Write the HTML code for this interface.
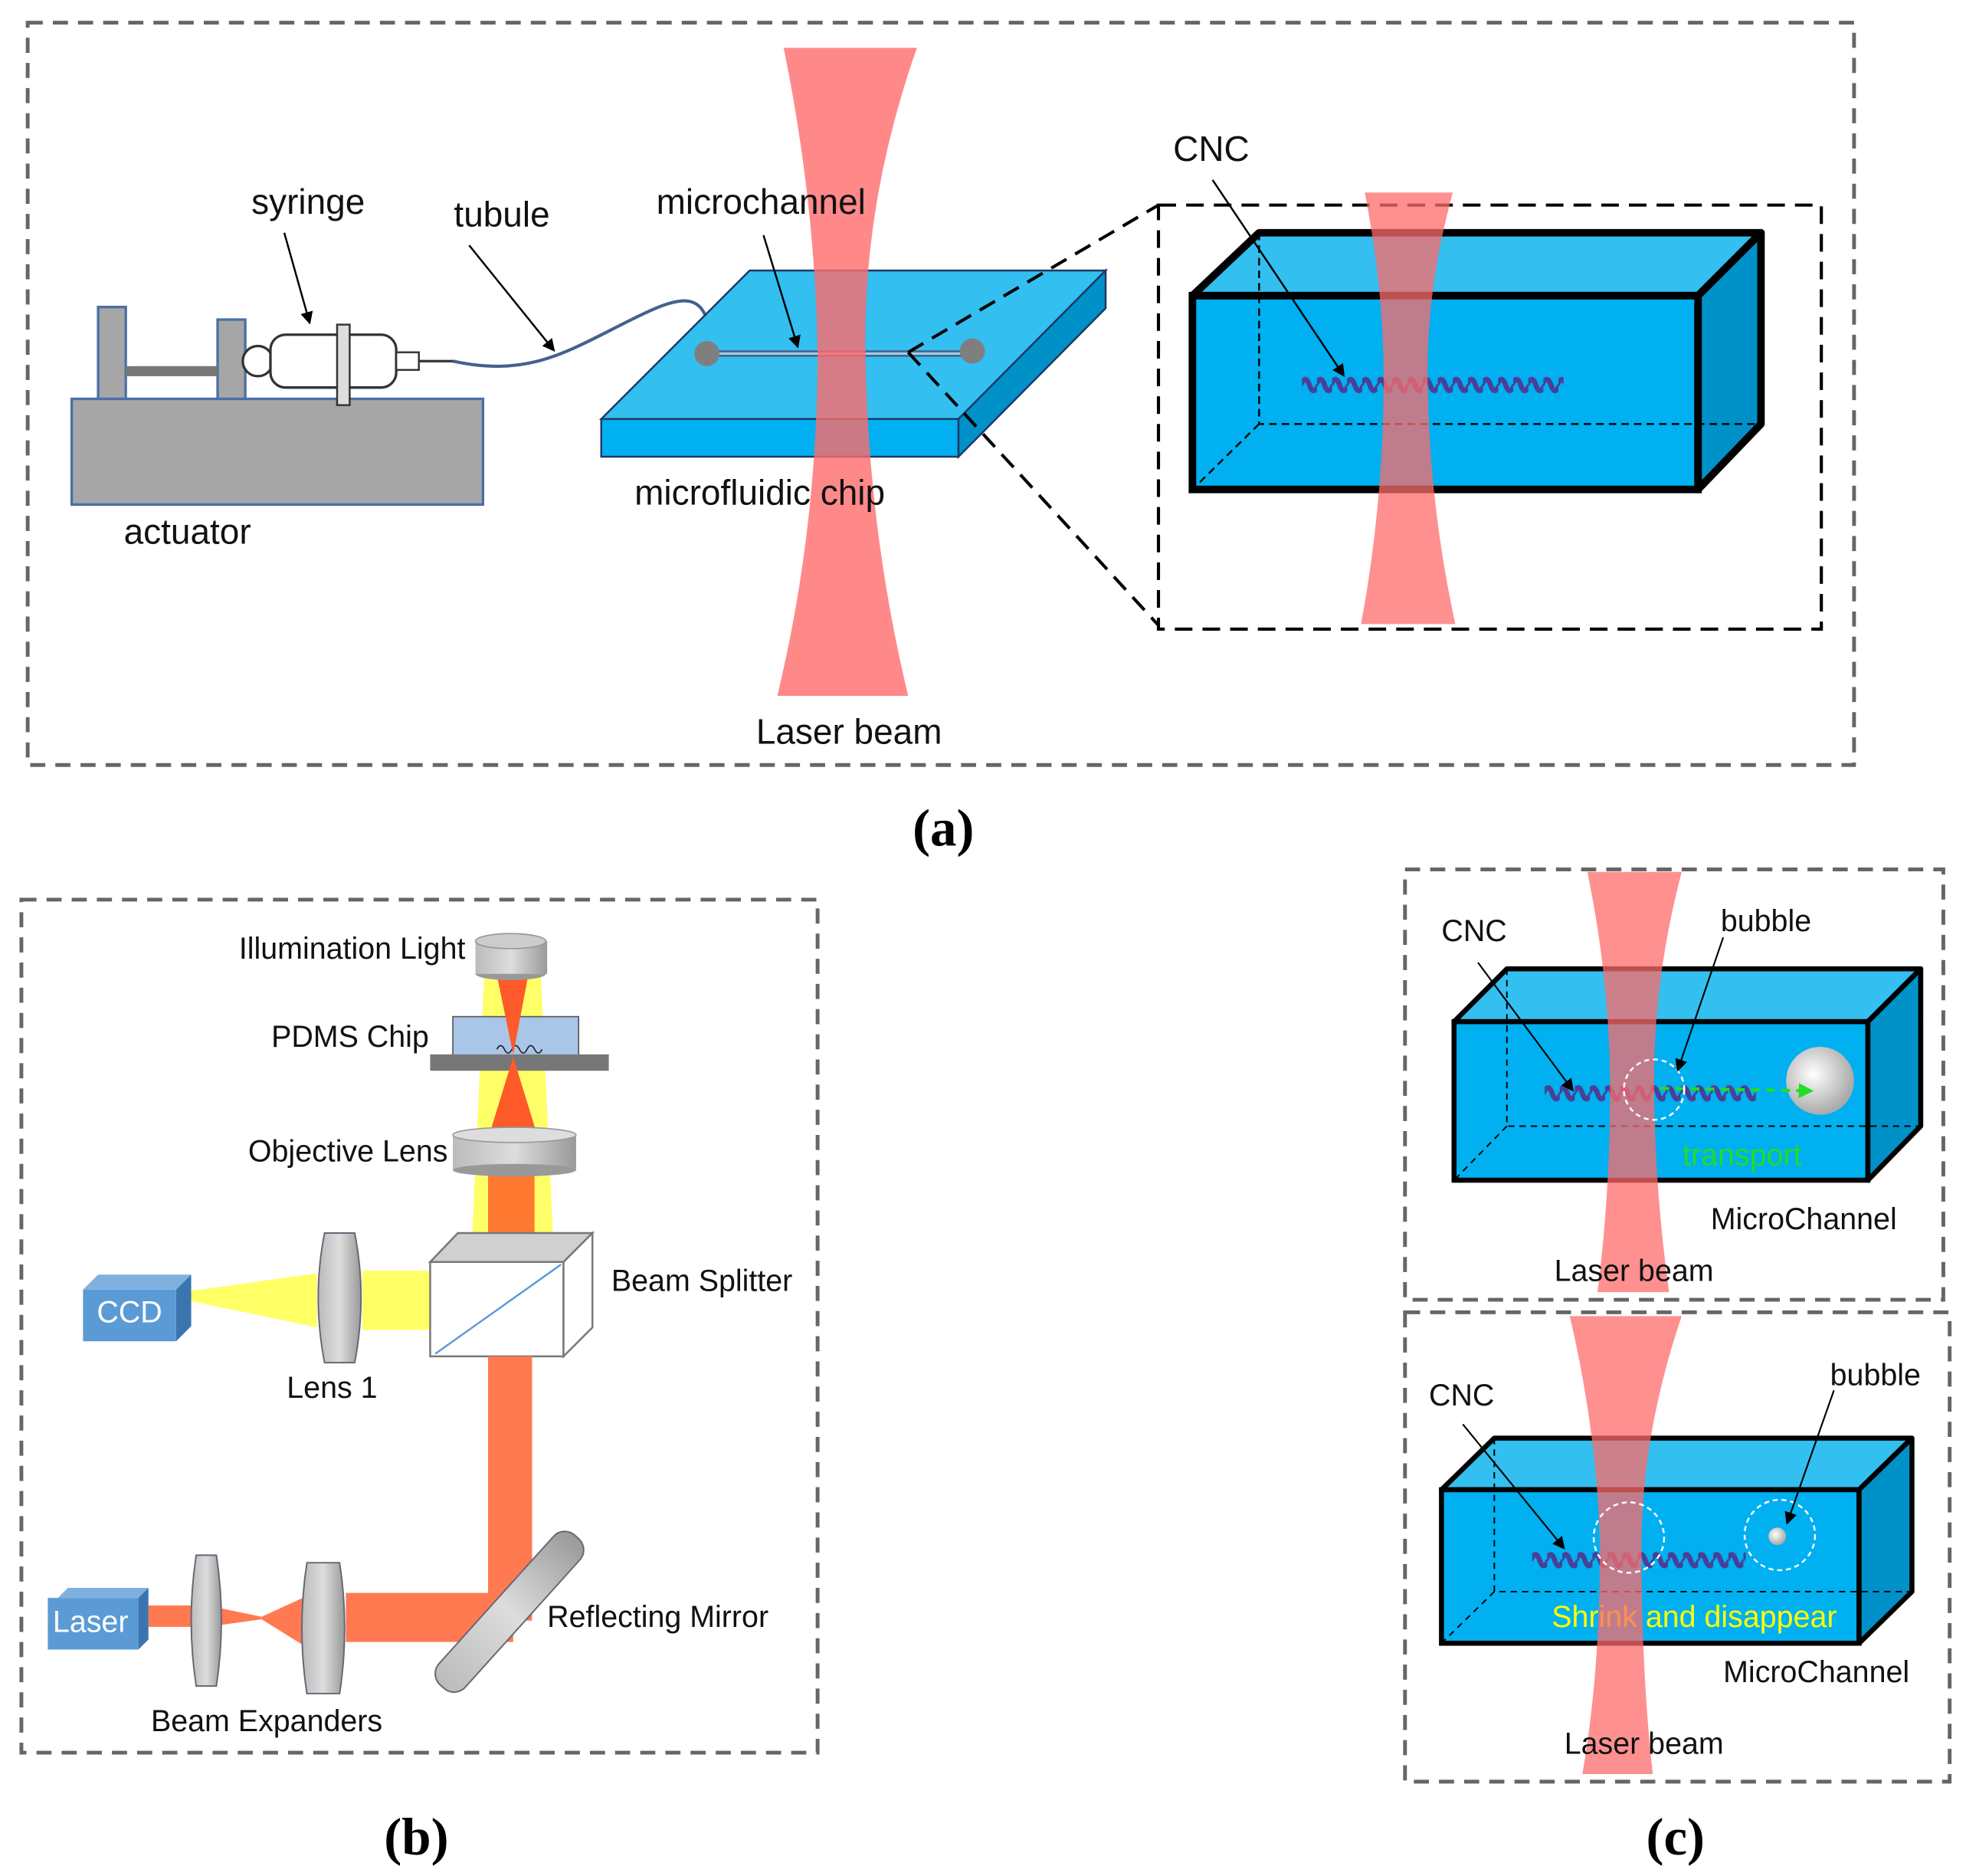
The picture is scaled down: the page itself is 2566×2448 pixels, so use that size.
<!DOCTYPE html>
<html><head><meta charset="utf-8"><style>
html,body{margin:0;padding:0;background:#fff;}
svg{display:block;}
text{font-family:"Liberation Sans",sans-serif;}
.serif{font-family:"Liberation Serif",serif;font-weight:bold;}
</style></head><body>
<svg width="2566" height="2448" viewBox="0 0 1563 1491" preserveAspectRatio="none" xmlns="http://www.w3.org/2000/svg">
<defs>
<pattern id="spring1" patternUnits="userSpaceOnUse" x="1035" y="296" width="12" height="20">
<path d="M-1,10 Q3,1 6,10 Q9,19 13,10" fill="none" stroke="#4a3f96" stroke-width="4"/>
</pattern>
<pattern id="spring2" patternUnits="userSpaceOnUse" x="1228" y="859" width="12" height="20">
<path d="M-1,10 Q3,1 6,10 Q9,19 13,10" fill="none" stroke="#4a3f96" stroke-width="4"/>
</pattern>
<pattern id="spring3" patternUnits="userSpaceOnUse" x="1218" y="1230" width="12" height="20">
<path d="M-1,10 Q3,1 6,10 Q9,19 13,10" fill="none" stroke="#4a3f96" stroke-width="4"/>
</pattern>
<marker id="ar" markerWidth="10" markerHeight="10" refX="8" refY="5" orient="auto" markerUnits="userSpaceOnUse">
<path d="M0,0 L10,5 L0,10 Z" fill="#000"/></marker>
<marker id="arg" markerWidth="12" markerHeight="12" refX="10" refY="6" orient="auto" markerUnits="userSpaceOnUse">
<path d="M0,0 L12,6 L0,12 Z" fill="#22dd22"/></marker>
<radialGradient id="bub" cx="0.4" cy="0.4" r="0.6"><stop offset="0" stop-color="#fff"/><stop offset="1" stop-color="#aaa"/></radialGradient>
<linearGradient id="cyl" x1="0" y1="0" x2="1" y2="0"><stop offset="0" stop-color="#bbb"/><stop offset="0.5" stop-color="#ddd"/><stop offset="1" stop-color="#999"/></linearGradient>
</defs>
<rect width="1563" height="1491" fill="#fff"/>

<!-- Panel a -->
<rect x="22" y="18" width="1452" height="590" fill="none" stroke="#666" stroke-width="3" stroke-dasharray="12,8"/>
<rect x="57" y="317" width="327" height="84" fill="#a6a6a6" stroke="#4a6fa5" stroke-width="2"/>
<rect x="78" y="244" width="22" height="73" fill="#a6a6a6" stroke="#4a6fa5" stroke-width="2"/>
<rect x="173" y="254" width="22" height="63" fill="#a6a6a6" stroke="#4a6fa5" stroke-width="2"/>
<rect x="100" y="291" width="73" height="8" fill="#777"/>
<circle cx="205" cy="287" r="12" fill="#fff" stroke="#333" stroke-width="2"/>
<rect x="215" y="266" width="100" height="42" rx="12" fill="#fff" stroke="#333" stroke-width="2"/>
<rect x="268" y="258" width="10" height="64" fill="#ddd" stroke="#333" stroke-width="1.5"/>
<rect x="315" y="280" width="18" height="14" fill="#fff" stroke="#333" stroke-width="1.5"/>
<line x1="333" y1="287" x2="362" y2="287" stroke="#333" stroke-width="2"/>
<path d="M360,287 C420,300 450,280 500,255 C540,235 565,225 565,280" fill="none" stroke="#44618a" stroke-width="2.5"/>

<polygon points="478,333 596,215 879,215 762,333" fill="#33bff0" stroke="#1f3864" stroke-width="1.5"/>
<rect x="478" y="333" width="284" height="30" fill="#00b0f0" stroke="#1f3864" stroke-width="1.5"/>
<polygon points="762,333 879,215 879,245 762,363" fill="#0091c9" stroke="#1f3864" stroke-width="1.5"/>
<line x1="562" y1="281" x2="773" y2="281" stroke="#44618a" stroke-width="5"/>
<line x1="562" y1="281" x2="773" y2="281" stroke="#a6c8e0" stroke-width="2"/>
<circle cx="562" cy="281" r="10" fill="#7f7f7f"/>
<circle cx="773" cy="279" r="10" fill="#7f7f7f"/>

<path d="M623,38 L729,38 Q686,160 688,280 Q690,420 722,553 L618,553 Q650,420 650,280 Q648,160 623,38 Z" fill="#ff6b6b" fill-opacity="0.8"/>

<line x1="722" y1="280" x2="921" y2="163" stroke="#000" stroke-width="2.5" stroke-dasharray="14,8"/>
<line x1="722" y1="280" x2="921" y2="497" stroke="#000" stroke-width="2.5" stroke-dasharray="14,8"/>
<rect x="921" y="163" width="527" height="337" fill="none" stroke="#000" stroke-width="2.5" stroke-dasharray="14,8"/>

<polygon points="948,235 1001,185 1400,185 1350,235" fill="#33bff0" stroke="#000" stroke-width="6" stroke-linejoin="round"/>
<rect x="948" y="235" width="402" height="154" fill="#00b0f0" stroke="#000" stroke-width="6"/>
<polygon points="1350,235 1400,185 1400,337 1350,389" fill="#0091c9" stroke="#000" stroke-width="6" stroke-linejoin="round"/>
<path d="M1001,185 L1001,337 L1400,337 M1001,337 L948,389" fill="none" stroke="#000" stroke-width="1.5" stroke-dasharray="6,4"/>
<rect x="1035" y="296" width="208" height="20" fill="url(#spring1)"/>
<path d="M1085,153 L1155,153 Q1134,230 1135,300 Q1136,400 1157,496 L1082,496 Q1100,400 1100,300 Q1100,230 1085,153 Z" fill="#ff6b6b" fill-opacity="0.75"/>

<g font-size="28" fill="#111">
<text x="245" y="170" text-anchor="middle">syringe</text>
<text x="399" y="180" text-anchor="middle">tubule</text>
<text x="605" y="170" text-anchor="middle">microchannel</text>
<text x="963" y="128" text-anchor="middle">CNC</text>
<text x="149" y="432" text-anchor="middle">actuator</text>
<text x="604" y="401" text-anchor="middle">microfluidic chip</text>
<text x="675" y="591" text-anchor="middle">Laser beam</text>
</g>
<g stroke="#000" stroke-width="1.5" marker-end="url(#ar)">
<line x1="226" y1="185" x2="246" y2="256"/>
<line x1="373" y1="195" x2="440" y2="278"/>
<line x1="607" y1="187" x2="634" y2="275"/>
<line x1="964" y1="143" x2="1068" y2="298"/>
</g>
<text x="750" y="672" class="serif" font-size="42" text-anchor="middle">(a)</text>

<!-- Panel b -->
<rect x="17" y="715" width="633" height="678" fill="none" stroke="#666" stroke-width="3" stroke-dasharray="12,8"/>
<polygon points="385,775 430,775 440,990 375,990" fill="#ffff4d" fill-opacity="0.85"/>
<polygon points="342,1010 342,1057 288,1057 288,1010" fill="#ffff66"/>
<polygon points="252,1012 252,1055 152,1034 152,1026" fill="#ffff66"/>
<rect x="360" y="808" width="100" height="32" fill="#a9c6e8" stroke="#555" stroke-width="1"/>
<path d="M395,834 q3,-6 6,0 t6,0 t6,0 t6,0 t6,0 t6,0" fill="none" stroke="#222" stroke-width="1"/>
<rect x="342" y="838" width="142" height="13" fill="#777"/>
<polygon points="395,775 420,775 408,838" fill="#ff5a2a"/>
<polygon points="408,840 388,905 428,905" fill="#ff5a2a"/>
<rect x="388" y="932" width="37" height="58" fill="#ff7a30"/>
<ellipse cx="406" cy="774" rx="28" ry="5" fill="#999"/>
<rect x="378" y="748" width="57" height="26" fill="url(#cyl)"/>
<ellipse cx="406" cy="748" rx="28" ry="6" fill="#ccc" stroke="#999"/>
<rect x="360" y="903" width="98" height="27" fill="url(#cyl)"/>
<ellipse cx="409" cy="930" rx="49" ry="5" fill="#999"/>
<ellipse cx="409" cy="902" rx="49" ry="6" fill="#ddd" stroke="#999"/>

<rect x="342" y="1003" width="106" height="75" fill="#fff" stroke="#777" stroke-width="1.5"/>
<polygon points="342,1003 364,980 471,980 448,1003" fill="#d0d0d0" stroke="#777" stroke-width="1.5"/>
<polygon points="448,1003 471,980 471,1055 448,1078" fill="#fff" stroke="#777" stroke-width="1.5"/>
<line x1="346" y1="1076" x2="446" y2="1005" stroke="#5b9bd5" stroke-width="1.5"/>

<path d="M258,980 Q248,1031 258,1083 L282,1083 Q292,1031 282,980 Z" fill="url(#cyl)" stroke="#667" stroke-width="1.2"/>
<polygon points="66,1025 78,1013 152,1013 140,1025" fill="#7fb0e0"/>
<polygon points="140,1025 152,1013 152,1054 140,1066" fill="#3a75b0"/>
<rect x="66" y="1025" width="74" height="41" fill="#5b9bd5"/>
<text x="103" y="1051" font-size="24" fill="#fff" text-anchor="middle">CCD</text>

<rect x="388" y="1078" width="35" height="210" fill="#ff7a50"/>
<rect x="275" y="1266" width="133" height="39" fill="#ff7a50"/>
<rect x="118" y="1276" width="40" height="17" fill="#ff7a50"/>
<polygon points="165,1276 208,1285 245,1268 245,1310 208,1287 165,1293" fill="#ff7a50"/>
<polygon points="46,1270 54,1262 118,1262 110,1270" fill="#7fb0e0"/>
<polygon points="110,1270 118,1262 118,1303 110,1311" fill="#3a75b0"/>
<rect x="38" y="1270" width="72" height="41" fill="#5b9bd5"/>
<text x="72" y="1297" font-size="24" fill="#fff" text-anchor="middle">Laser</text>
<path d="M156,1236 Q148,1288 156,1340 L172,1340 Q180,1288 172,1236 Z" fill="url(#cyl)" stroke="#667" stroke-width="1.2"/>
<path d="M244,1242 Q236,1294 244,1346 L270,1346 Q278,1294 270,1242 Z" fill="url(#cyl)" stroke="#667" stroke-width="1.2"/>
<g transform="rotate(-48 405 1281)">
<rect x="325" y="1267" width="160" height="28" rx="12" fill="url(#cyl)" stroke="#667" stroke-width="1.2"/>
</g>

<g font-size="24" fill="#111">
<text x="370" y="762" text-anchor="end">Illumination Light</text>
<text x="341" y="832" text-anchor="end">PDMS  Chip</text>
<text x="356" y="923" text-anchor="end">Objective Lens</text>
<text x="486" y="1026">Beam Splitter</text>
<text x="264" y="1111" text-anchor="middle">Lens 1</text>
<text x="435" y="1293">Reflecting Mirror</text>
<text x="212" y="1376" text-anchor="middle">Beam Expanders</text>
</g>
<text x="331" y="1474" class="serif" font-size="42" text-anchor="middle">(b)</text>

<!-- Panel c top -->
<rect x="1117" y="691" width="428" height="342" fill="none" stroke="#666" stroke-width="3" stroke-dasharray="12,8"/>
<polygon points="1156,812 1198,770 1527,770 1485,812" fill="#33bff0" stroke="#000" stroke-width="4" stroke-linejoin="round"/>
<rect x="1156" y="812" width="329" height="126" fill="#00b0f0" stroke="#000" stroke-width="4"/>
<polygon points="1485,812 1527,770 1527,895 1485,938" fill="#0091c9" stroke="#000" stroke-width="4" stroke-linejoin="round"/>
<path d="M1198,770 L1198,895 L1527,895 M1198,895 L1156,938" fill="none" stroke="#000" stroke-width="1.2" stroke-dasharray="5,4"/>
<rect x="1228" y="859" width="168" height="20" fill="url(#spring2)"/>
<circle cx="1447" cy="859" r="27" fill="url(#bub)"/>
<line x1="1320" y1="865" x2="1440" y2="867" stroke="#22dd22" stroke-width="2.5" stroke-dasharray="7,5" marker-end="url(#arg)"/>
<text x="1385" y="926" font-size="24" fill="#22dd22" text-anchor="middle">transport</text>
<path d="M1262,693 L1337,693 Q1314,780 1315,866 Q1316,950 1327,1027 L1270,1027 Q1280,950 1280,866 Q1280,780 1262,693 Z" fill="#ff6b6b" fill-opacity="0.75"/>
<circle cx="1315" cy="866" r="24" fill="none" stroke="#fff" stroke-width="1.5" stroke-dasharray="4,3"/>
<g font-size="24" fill="#111">
<text x="1172" y="748" text-anchor="middle">CNC</text>
<text x="1404" y="740" text-anchor="middle">bubble</text>
<text x="1434" y="977" text-anchor="middle">MicroChannel</text>
<text x="1299" y="1018" text-anchor="middle">Laser beam</text>
</g>
<g stroke="#000" stroke-width="1.3" marker-end="url(#ar)">
<line x1="1175" y1="765" x2="1250" y2="866"/>
<line x1="1370" y1="745" x2="1334" y2="850"/>
</g>

<!-- Panel c bottom -->
<rect x="1117" y="1043" width="433" height="373" fill="none" stroke="#666" stroke-width="3" stroke-dasharray="12,8"/>
<polygon points="1146,1184 1188,1143 1520,1143 1478,1184" fill="#33bff0" stroke="#000" stroke-width="4" stroke-linejoin="round"/>
<rect x="1146" y="1184" width="332" height="122" fill="#00b0f0" stroke="#000" stroke-width="4"/>
<polygon points="1478,1184 1520,1143 1520,1265 1478,1306" fill="#0091c9" stroke="#000" stroke-width="4" stroke-linejoin="round"/>
<path d="M1188,1143 L1188,1265 L1520,1265 M1188,1265 L1146,1306" fill="none" stroke="#000" stroke-width="1.2" stroke-dasharray="5,4"/>
<rect x="1218" y="1230" width="170" height="20" fill="url(#spring3)"/>
<circle cx="1413" cy="1221" r="7" fill="url(#bub)"/>
<circle cx="1415" cy="1220" r="28" fill="none" stroke="#fff" stroke-width="1.5" stroke-dasharray="4,3"/>
<text x="1347" y="1293" font-size="24" fill="#ffff00" text-anchor="middle">Shrink and disappear</text>
<path d="M1248,1046 L1337,1046 Q1305,1140 1305,1230 Q1305,1330 1314,1410 L1258,1410 Q1272,1330 1272,1230 Q1270,1140 1248,1046 Z" fill="#ff6b6b" fill-opacity="0.75"/>
<circle cx="1295" cy="1222" r="28" fill="none" stroke="#fff" stroke-width="1.5" stroke-dasharray="4,3"/>
<g font-size="24" fill="#111">
<text x="1162" y="1117" text-anchor="middle">CNC</text>
<text x="1491" y="1101" text-anchor="middle">bubble</text>
<text x="1444" y="1337" text-anchor="middle">MicroChannel</text>
<text x="1307" y="1394" text-anchor="middle">Laser beam</text>
</g>
<g stroke="#000" stroke-width="1.3" marker-end="url(#ar)">
<line x1="1163" y1="1132" x2="1243" y2="1230"/>
<line x1="1458" y1="1105" x2="1421" y2="1210"/>
</g>
<text x="1332" y="1474" class="serif" font-size="42" text-anchor="middle">(c)</text>
</svg>
</body></html>
